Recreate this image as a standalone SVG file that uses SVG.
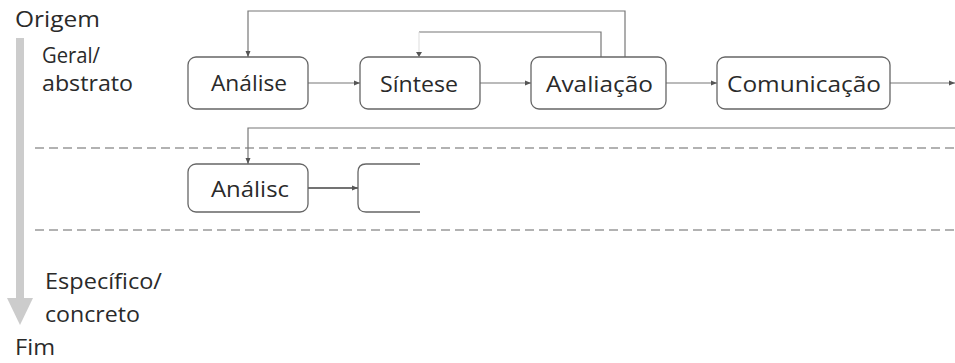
<svg xmlns="http://www.w3.org/2000/svg" width="955" height="363" viewBox="0 0 955 363">
<defs>
<marker id="ah" viewBox="0 0 6 6" refX="6" refY="3" markerWidth="6" markerHeight="6" markerUnits="userSpaceOnUse" orient="auto">
<path d="M0,0.5 L6,3 L0,5.5 Z" fill="#555"/>
</marker>
<style>
.box{fill:#fff;stroke:#666;stroke-width:1.3}
.lbl{font-family:"Open Sans","Noto Sans","Liberation Sans",sans-serif;font-size:21px;fill:#2a2a2a}
.side{font-family:"Open Sans","Noto Sans","Liberation Sans",sans-serif;font-size:22px;fill:#2a2a2a}
.con{fill:none;stroke:#777;stroke-width:1.2}
.dash{fill:none;stroke:#999;stroke-width:1.5;stroke-dasharray:9 5}
</style>
</defs>
<rect width="955" height="363" fill="#fff"/>
<g id="axis">
<rect x="16" y="38" width="8" height="262" fill="#ccc"/>
<path d="M7,298 L33,298 L20,325 Z" fill="#ccc"/>
<text class="side" x="15" y="27" textLength="85" lengthAdjust="spacingAndGlyphs">Origem</text>
<text class="side" x="42" y="63" textLength="58" lengthAdjust="spacingAndGlyphs">Geral/</text>
<text class="side" x="42" y="91" textLength="91" lengthAdjust="spacingAndGlyphs">abstrato</text>
<text class="side" x="45" y="289" textLength="117" lengthAdjust="spacingAndGlyphs">Específico/</text>
<text class="side" x="45" y="322" textLength="95" lengthAdjust="spacingAndGlyphs">concreto</text>
<text class="side" x="15" y="355" textLength="40" lengthAdjust="spacingAndGlyphs">Fim</text>
</g>
<g id="dividers">
<line class="dash" x1="35" y1="148" x2="955" y2="148"/>
<line class="dash" x1="35" y1="230" x2="955" y2="230"/>
</g>
<g id="connectors">
<line class="con" x1="308" y1="83" x2="360" y2="83" marker-end="url(#ah)"/>
<line class="con" x1="480" y1="83" x2="531" y2="83" marker-end="url(#ah)"/>
<line class="con" x1="666" y1="83" x2="717" y2="83" marker-end="url(#ah)"/>
<line class="con" x1="890" y1="83" x2="955" y2="83" marker-end="url(#ah)"/>
<polyline class="con" points="625,57 625,11 248,11 248,57" marker-end="url(#ah)"/>
<polyline class="con" points="601,57 601,32 419,32"/>
<line x1="419" y1="32" x2="419" y2="57" stroke="#ddd" stroke-width="1"/>
<path d="M416,52 L422,52 L419,57 Z" fill="#555"/>
<polyline class="con" points="955,128 248,128 248,164" marker-end="url(#ah)"/>
<line x1="308" y1="188" x2="358" y2="188" stroke="#444" stroke-width="1.5" marker-end="url(#ah)"/>
</g>
<g id="n-analise">
<rect class="box" x="188" y="57" width="120" height="52" rx="8"/>
<text class="lbl" x="211" y="91" textLength="76" lengthAdjust="spacingAndGlyphs">Análise</text>
</g>
<g id="n-sintese">
<rect class="box" x="360" y="57" width="120" height="52" rx="8"/>
<text class="lbl" x="380" y="92" textLength="78" lengthAdjust="spacingAndGlyphs">Síntese</text>
</g>
<g id="n-avaliacao">
<rect class="box" x="531" y="57" width="135" height="52" rx="8"/>
<text class="lbl" x="546" y="92" textLength="107" lengthAdjust="spacingAndGlyphs">Avaliação</text>
</g>
<g id="n-comunicacao">
<rect class="box" x="717" y="57" width="173" height="52" rx="8"/>
<text class="lbl" x="727" y="92" textLength="154" lengthAdjust="spacingAndGlyphs">Comunicação</text>
</g>
<g id="n-analise2">
<rect class="box" x="188" y="164" width="120" height="48" rx="8"/>
<text class="lbl" x="211" y="197" textLength="78" lengthAdjust="spacingAndGlyphs">Análisc</text>
</g>
<g id="n-partial">
<path class="box" d="M420,164 L366,164 Q358,164 358,172 L358,204 Q358,212 366,212 L420,212"/>
</g>
</svg>
